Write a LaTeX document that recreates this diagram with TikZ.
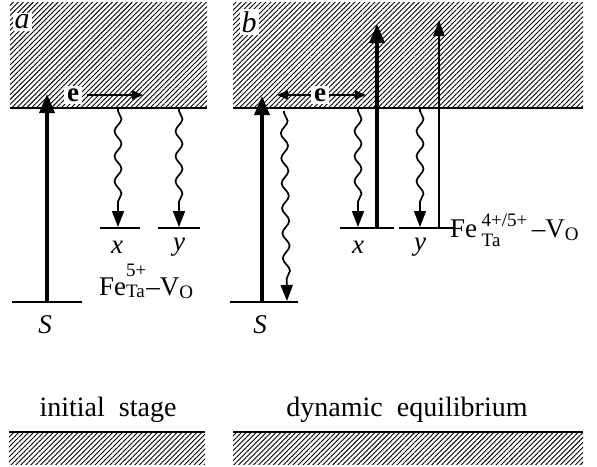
\documentclass[tikz,border=0pt]{standalone}
\usepackage{fontspec}
\setmainfont{Liberation Serif}
\usetikzlibrary{arrows.meta,patterns.meta,decorations.pathmorphing}
\newcommand{\siteidx}[4]{%
  \rlap{\raisebox{-#4}{\fontsize{19}{19}\selectfont #2}}%
  \raisebox{#3}{\fontsize{19}{19}\selectfont #1}}
\tikzset{
  hatch/.style={pattern={Lines[angle=45,distance=3.5pt,line width=0.9pt]}},
  bandedge/.style={line width=2.2pt},
  level/.style={line width=2.2pt},
  bigup/.style={-{Triangle[length=19pt,width=15pt]},line width=3.4pt},
  thinup/.style={-{Triangle[length=16pt,width=11pt]},line width=1.8pt},
  earrow/.style={-{Triangle[length=11pt,width=9pt]},line width=1.7pt},
  relax/.style={-{Triangle[length=16pt,width=12pt]},line width=1.7pt,
    decorate,decoration={snake,amplitude=3.5pt,segment length=25pt,
    pre length=2pt,post length=16pt}},
  panel/.style={font=\fontsize{30}{34}\selectfont\itshape,fill=white,inner sep=2pt},
  ebox/.style={font=\fontsize{27}{30}\selectfont\bfseries,fill=white,inner sep=3pt},
  lbl/.style={font=\fontsize{27}{30}\selectfont\itshape,inner sep=0pt},
  defect/.style={font=\fontsize{27}{30}\selectfont,inner sep=0pt,anchor=base west},
  caption/.style={font=\fontsize{28}{32}\selectfont,inner sep=0pt}
}

\begin{document}
\begin{tikzpicture}[x=1pt,y=-1pt]
  \useasboundingbox (0,0) rectangle (597,466);
  % conduction bands
  \fill[hatch] (10,2) rectangle (207,108);
  \fill[hatch] (233,2) rectangle (583,108);
  \draw[bandedge] (10,108) -- (207,108);
  \draw[bandedge] (233,108) -- (583,108);
  % valence bands
  \fill[hatch] (9,432) rectangle (205,464);
  \fill[hatch] (233,432) rectangle (583,464);
  \draw[bandedge] (9,432) -- (205,432);
  \draw[bandedge] (233,432) -- (583,432);
  \node[panel] (pa) at (22,22) {a};
  \node[panel] (pb) at (249,22) {b};

  % panel a
  \coordinate (aSl) at (12,302);  \coordinate (aSr) at (82,302);
  \coordinate (aS) at (47,302);   \coordinate (aCB) at (47,94);
  \coordinate (aXl) at (100,228); \coordinate (aXr) at (140,228);
  \coordinate (aX) at (118,227);  \coordinate (aXtop) at (118,109);
  \coordinate (aYl) at (158,228); \coordinate (aYr) at (200,228);
  \coordinate (aY) at (179,227);  \coordinate (aYtop) at (179,109);
  \coordinate (aeEnd) at (143,95);
  \draw[level] (aSl) -- (aSr);
  \draw[level] (aXl) -- (aXr);
  \draw[level] (aYl) -- (aYr);
  \draw[bigup] (aS) -- (aCB);
  \draw[relax] (aXtop) -- (aX);
  \draw[relax] (aYtop) -- (aY);
  \node[ebox] (ae) at (73,95) {e};
  \draw[earrow] ([xshift=5pt]ae.east) -- (aeEnd);
  \node[lbl] (aSlab) at (45,325) {S};
  \node[lbl] (axlab) at (117,247) {x};
  \node[lbl] (aylab) at (179,247) {y};
  \node[defect] (afe) at (99,295)
    {Fe\siteidx{5+}{Ta}{19pt}{2pt}–V\raisebox{-3pt}{\fontsize{19}{19}\selectfont O}};

  % panel b
  \coordinate (bSl) at (230,302); \coordinate (bSr) at (298,302);
  \coordinate (bS) at (262,302);  \coordinate (bCB) at (262,96);
  \coordinate (bW) at (287,301);  \coordinate (bWtop) at (284,111);
  \coordinate (bXl) at (340,228); \coordinate (bXr) at (394,228);
  \coordinate (bX) at (358,227);  \coordinate (bXtop) at (358,109);
  \coordinate (bXup) at (377,228); \coordinate (bXend) at (377,24);
  \coordinate (bYl) at (399,228); \coordinate (bYr) at (453,228);
  \coordinate (bY) at (420,227);  \coordinate (bYtop) at (420,109);
  \coordinate (bYup) at (439,228); \coordinate (bYend) at (439,20);
  \coordinate (beL) at (277,95);  \coordinate (beR) at (366,95);
  \draw[level] (bSl) -- (bSr);
  \draw[level] (bXl) -- (bXr);
  \draw[level] (bYl) -- (bYr);
  \draw[bigup] (bS) -- (bCB);
  \draw[relax] (bWtop) -- (bW);
  \draw[relax] (bXtop) -- (bX);
  \draw[relax] (bYtop) -- (bY);
  \draw[bigup] (bXup) -- (bXend);
  \draw[thinup] (bYup) -- (bYend);
  \node[ebox] (be) at (320,95) {e};
  \draw[earrow] (be.west) -- (beL);
  \draw[earrow] (be.east) -- (beR);
  \node[lbl] (bSlab) at (260,325) {S};
  \node[lbl] (bxlab) at (358,247) {x};
  \node[lbl] (bylab) at (420,247) {y};
  \node[defect] (bfe) at (450,237)
    {Fe\,\siteidx{4+/5+}{Ta}{11pt}{9pt}\,–V\raisebox{-3pt}{\fontsize{19}{19}\selectfont O}};

  % stage captions
  \node[caption] (cap a) at (108,410) {initial\ \ stage};
  \node[caption] (cap b) at (407,410) {dynamic\ \ equilibrium};
\end{tikzpicture}
\end{document}
